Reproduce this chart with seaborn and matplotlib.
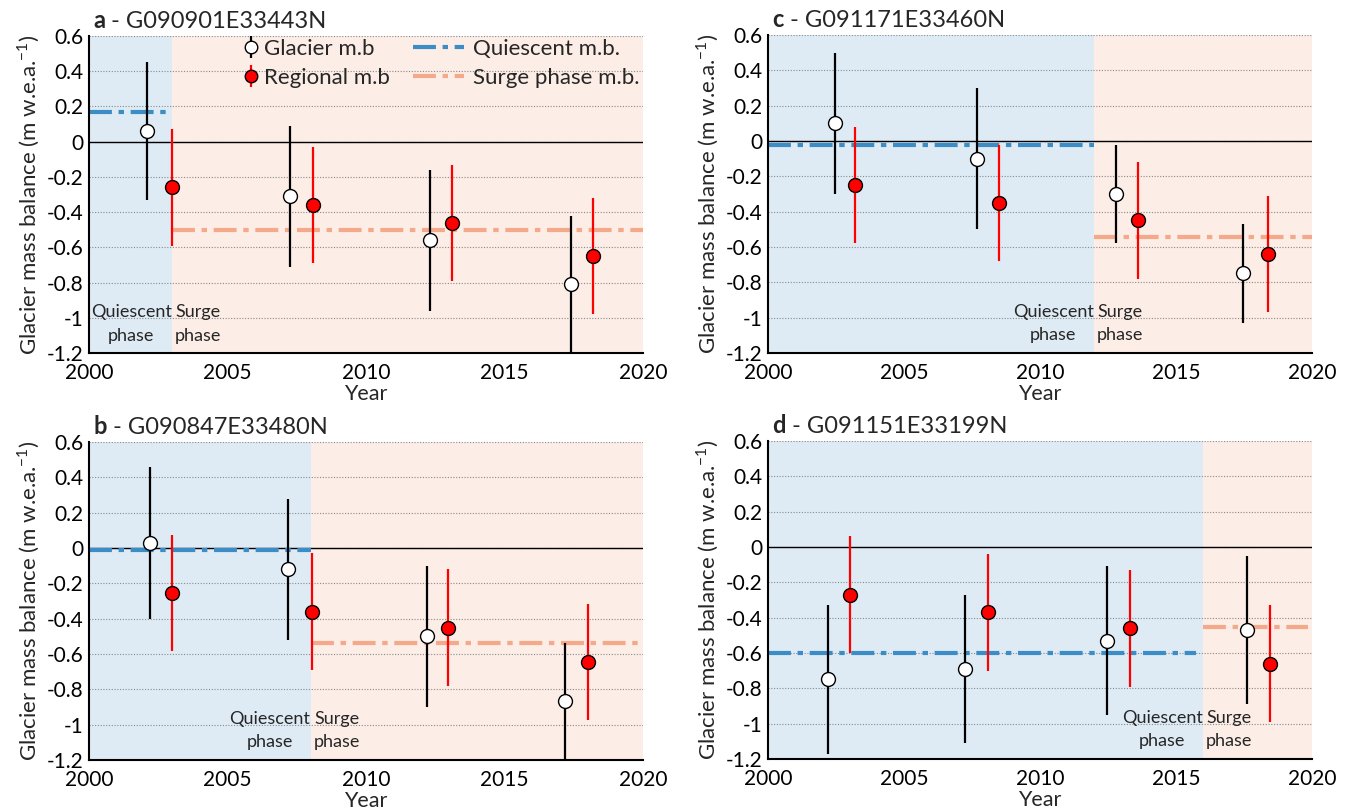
import numpy as np
import matplotlib
matplotlib.use('Agg')
import matplotlib.pyplot as plt
import seaborn as sns

# ---- data ----
# panel a - G090901E33443N
a_glacier_year = [2002.1, 2007.25, 2012.3, 2017.4]
a_glacier_mb = [0.06, -0.31, -0.56, -0.81]
a_glacier_err = [0.39, 0.40, 0.40, 0.39]
a_regional_year = [2003.0, 2008.1, 2013.1, 2018.2]
a_regional_mb = [-0.26, -0.36, -0.46, -0.65]
a_regional_err = [0.33, 0.33, 0.33, 0.33]
a_quiescent_mb = 0.17
a_surge_mb = -0.50
a_surge_start = 2003.0

# panel b - G090847E33480N
b_glacier_year = [2002.2, 2007.2, 2012.2, 2017.2]
b_glacier_mb = [0.03, -0.12, -0.50, -0.865]
b_glacier_err = [0.43, 0.40, 0.40, 0.33]
b_regional_year = [2003.0, 2008.05, 2012.95, 2018.0]
b_regional_mb = [-0.255, -0.36, -0.45, -0.645]
b_regional_err = [0.33, 0.33, 0.33, 0.33]
b_quiescent_mb = -0.01
b_surge_mb = -0.54
b_surge_start = 2008.0

# panel c - G091171E33460N
c_glacier_year = [2002.45, 2007.7, 2012.8, 2017.45]
c_glacier_mb = [0.10, -0.10, -0.30, -0.75]
c_glacier_err = [0.40, 0.40, 0.28, 0.28]
c_regional_year = [2003.2, 2008.5, 2013.6, 2018.4]
c_regional_mb = [-0.25, -0.35, -0.45, -0.64]
c_regional_err = [0.33, 0.33, 0.33, 0.33]
c_quiescent_mb = -0.02
c_surge_mb = -0.545
c_surge_start = 2012.0

# panel d - G091151E33199N
d_glacier_year = [2002.2, 2007.25, 2012.45, 2017.6]
d_glacier_mb = [-0.75, -0.69, -0.53, -0.47]
d_glacier_err = [0.42, 0.42, 0.42, 0.42]
d_regional_year = [2003.0, 2008.1, 2013.3, 2018.45]
d_regional_mb = [-0.27, -0.37, -0.46, -0.66]
d_regional_err = [0.33, 0.33, 0.33, 0.33]
d_quiescent_mb = -0.60
d_surge_mb = -0.455
d_surge_start = 2016.0

x_ticks = [2000, 2005, 2010, 2015, 2020]
y_ticks = [-1.2, -1.0, -0.8, -0.6, -0.4, -0.2, 0.0, 0.2, 0.4, 0.6]
y_tick_labels = ['-1.2', '-1', '-0.8', '-0.6', '-0.4', '-0.2', '0', '0.2', '0.4', '0.6']

BLUE_BG = '#deebf5'
SALMON_BG = '#fcede6'
Q_COLOR = '#3c8dc5'
S_COLOR = '#f4a98a'
DASHDOT = (0, (5.5, 1.6, 1.3, 1.6))

sns.set_style('white')
plt.rcParams['font.family'] = ['Lato', 'DejaVu Sans']
plt.rcParams['mathtext.fontset'] = 'custom'
plt.rcParams['mathtext.rm'] = 'Lato'


def draw_panel(ax, letter, name, g_year, g_mb, g_err, r_year, r_mb, r_err,
               q_mb, s_mb, split, q_end, s_end, legend=False):
    ax.axvspan(2000, split, color=BLUE_BG, zorder=0, lw=0)
    ax.axvspan(split, 2020, color=SALMON_BG, zorder=0, lw=0)
    ax.set_axisbelow(True)
    ax.yaxis.grid(True, linestyle=(0, (1, 1.5)), color='#8a8a8a', lw=0.8)
    ax.xaxis.grid(False)
    ax.axhline(0, color='black', lw=1.0, zorder=1)

    q_line, = ax.plot([2000, q_end], [q_mb, q_mb], color=Q_COLOR, lw=3,
                      linestyle=DASHDOT, zorder=2, label='Quiescent m.b.')
    s_line, = ax.plot([split, s_end], [s_mb, s_mb], color=S_COLOR, lw=3,
                      linestyle=DASHDOT, zorder=2, label='Surge phase m.b.')

    ax.errorbar(g_year, g_mb, yerr=g_err, fmt='none', ecolor='black',
                elinewidth=1.6, capsize=0, zorder=3)
    ax.errorbar(r_year, r_mb, yerr=r_err, fmt='none', ecolor='red',
                elinewidth=1.6, capsize=0, zorder=3)
    sns.scatterplot(x=g_year, y=g_mb, color='white', edgecolor='black',
                    s=100, linewidth=1.0, zorder=4, ax=ax, legend=False)
    sns.scatterplot(x=r_year, y=r_mb, color='red', edgecolor='black',
                    s=100, linewidth=1.0, zorder=4, ax=ax, legend=False)

    ax.set_xlim(2000, 2020)
    ax.set_ylim(-1.2, 0.6)
    ax.set_xticks(x_ticks)
    ax.set_yticks(y_ticks)
    ax.set_yticklabels(y_tick_labels)
    ax.tick_params(axis='both', length=0, labelsize=15, colors='black')
    ax.tick_params(axis='x', pad=7)
    ax.tick_params(axis='y', pad=4)
    sns.despine(ax=ax)
    for side in ['left', 'bottom']:
        ax.spines[side].set_color('black')
        ax.spines[side].set_linewidth(1.5)
        ax.spines[side].set_zorder(5)
    ax.set_xlabel('Year', fontsize=15.5, labelpad=1)
    ax.set_ylabel('Glacier mass balance (m w.e.a.$^{\\mathregular{-1}}$)',
                  fontsize=16, labelpad=3)

    ax.text(split - 0.02, -1.035, 'Quiescent\nphase', ha='right', va='center',
            multialignment='center', fontsize=13, linespacing=1.55, zorder=6)
    ax.text(split + 0.1, -1.035, 'Surge\nphase', ha='left', va='center',
            multialignment='center', fontsize=13, linespacing=1.55, zorder=6)

    t = ax.text(0.008, 1.012, letter, transform=ax.transAxes, fontsize=17,
                fontweight='bold', ha='left', va='bottom')
    ax.annotate(' - ' + name, xy=(1, 0), xycoords=t, fontsize=17,
                ha='left', va='bottom')

    if legend:
        g_h = ax.errorbar([2050], [0], yerr=[0.1], fmt='o', color='black',
                          mfc='white', mec='black', ms=9, elinewidth=1.6)
        r_h = ax.errorbar([2050], [0], yerr=[0.1], fmt='o', ecolor='red',
                          mfc='red', mec='black', ms=9, elinewidth=1.6)
        leg1 = ax.legend([g_h, r_h], ['Glacier m.b', 'Regional m.b'],
                         loc='upper left', bbox_to_anchor=(0.282, 0.99),
                         frameon=False, fontsize=16, handlelength=0.55,
                         handletextpad=0.3, labelspacing=0.4,
                         borderpad=0, borderaxespad=0)
        ax.add_artist(leg1)
        ax.legend([q_line, s_line], ['Quiescent m.b.', 'Surge phase m.b.'],
                  loc='upper left', bbox_to_anchor=(0.585, 0.99),
                  frameon=False, fontsize=16, handlelength=2.3,
                  handletextpad=0.4, labelspacing=0.4,
                  borderpad=0, borderaxespad=0)


fig = plt.figure(figsize=(13.52, 8.10), dpi=100)
ax_a = fig.add_axes([0.0658, 0.5642, 0.4098, 0.3914])
ax_c = fig.add_axes([0.5680, 0.5642, 0.4024, 0.3926])
ax_b = fig.add_axes([0.0658, 0.0617, 0.4098, 0.3926])
ax_d = fig.add_axes([0.5680, 0.0630, 0.4024, 0.3926])

draw_panel(ax_a, 'a', 'G090901E33443N', a_glacier_year, a_glacier_mb, a_glacier_err,
           a_regional_year, a_regional_mb, a_regional_err,
           a_quiescent_mb, a_surge_mb, a_surge_start, a_surge_start, 2020, legend=True)
draw_panel(ax_b, 'b', 'G090847E33480N', b_glacier_year, b_glacier_mb, b_glacier_err,
           b_regional_year, b_regional_mb, b_regional_err,
           b_quiescent_mb, b_surge_mb, b_surge_start, b_surge_start, 2020)
draw_panel(ax_c, 'c', 'G091171E33460N', c_glacier_year, c_glacier_mb, c_glacier_err,
           c_regional_year, c_regional_mb, c_regional_err,
           c_quiescent_mb, c_surge_mb, c_surge_start, c_surge_start, 2020)
draw_panel(ax_d, 'd', 'G091151E33199N', d_glacier_year, d_glacier_mb, d_glacier_err,
           d_regional_year, d_regional_mb, d_regional_err,
           d_quiescent_mb, d_surge_mb, d_surge_start, 2015.75, 2019.85)

fig.savefig('out.png', dpi=100)
